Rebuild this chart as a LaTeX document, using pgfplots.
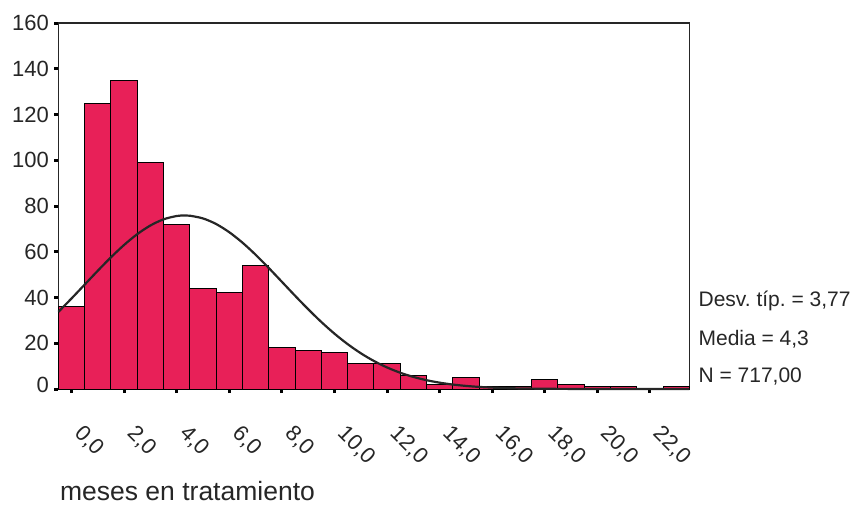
\documentclass[border=0pt]{standalone}
\usepackage{pgfplots}
\pgfplotsset{compat=1.18}
\usepackage{fontspec}
\setmainfont{Liberation Sans}
\frenchspacing
\definecolor{barred}{RGB}{232,32,88}

% Frequencies per month (bins of width 1, centred on whole months)
\pgfplotstableread{
x    n
-0.5 36
0.5  125
1.5  135
2.5  99
3.5  72
4.5  44
5.5  42
6.5  54
7.5  18
8.5  17
9.5  16
10.5 11
11.5 11
12.5 6
13.5 2
14.5 5
15.5 1
16.5 1
17.5 4
18.5 2
19.5 1
20.5 1
21.5 0
22.5 1
23.5 0
}\freqtable

\begin{document}
\begin{tikzpicture}
\begin{axis}[
  at={(0,0)}, anchor=south west,
  scale only axis, width=631pt, height=366pt,
  xmin=-0.5, xmax=23.5, ymin=0, ymax=160,
  axis line style={line width=1.5pt, black!85},
  xtick={0,2,...,22},
  xticklabels={{0,0},{2,0},{4,0},{6,0},{8,0},{10,0},{12,0},{14,0},{16,0},{18,0},{20,0},{22,0}},
  ytick={0,20,...,160},
  yticklabels={\raisebox{9pt}{0},20,40,60,80,100,120,140,160},
  xtick pos=left, ytick pos=left,
  tick align=outside,
  major tick length=4pt,
  tick style={line width=3pt, black},
  ticklabel style={font=\fontsize{22}{26}\selectfont, text=black!85},
  yticklabel style={xshift=-2pt},
  xticklabel style={xshift=13pt, yshift=-26pt, rotate=-45, anchor=north west},
  clip=false,
]
\addplot[ybar interval, fill=barred, draw=black, line width=1pt] table[x=x, y=n] {\freqtable};
% normal curve for mean 4.3, sd 3.77, N = 717
\addplot[black!85, line width=2.2pt, smooth] coordinates {
(-0.5,33.73) (0,39.59) (0.5,45.65) (1,51.72) (1.5,57.59) (2,62.99) (2.5,67.70)
(3,71.49) (3.5,74.18) (4,75.63) (4.3,75.87) (4.5,75.76) (5,74.57) (5.5,72.12)
(6,68.53) (6.5,63.99) (7,58.71) (7.5,52.92) (8,46.87) (8.5,40.79) (9,34.88)
(9.5,29.30) (10,24.19) (10.5,19.63) (11,15.64) (11.5,12.25) (12,9.42)
(12.5,7.12) (13,5.29) (13.5,3.86) (14,2.77) (14.5,1.95) (15,1.35) (15.5,0.92)
(16,0.61) (16.5,0.40) (17,0.26) (18,0.10) (19,0.04) (20,0.01) (21,0) (23.5,0)
};
\end{axis}
\begin{scope}[every node/.style={anchor=base west, inner sep=0pt, text=black!85, font=\fontsize{21}{25}\selectfont}]
\node at (640pt,83pt) {Desv. típ. = 3,77};
\node at (640pt,44pt) {Media = 4,3};
\node at (640pt,7pt) {N = 717,00};
\node[font=\fontsize{26.5}{30}\selectfont] at (1.5pt,-111pt) {meses en tratamiento};
\end{scope}
\pgfresetboundingbox
\path (-58.4pt,-115pt) rectangle (797.6pt,389pt);
\end{tikzpicture}
\end{document}
